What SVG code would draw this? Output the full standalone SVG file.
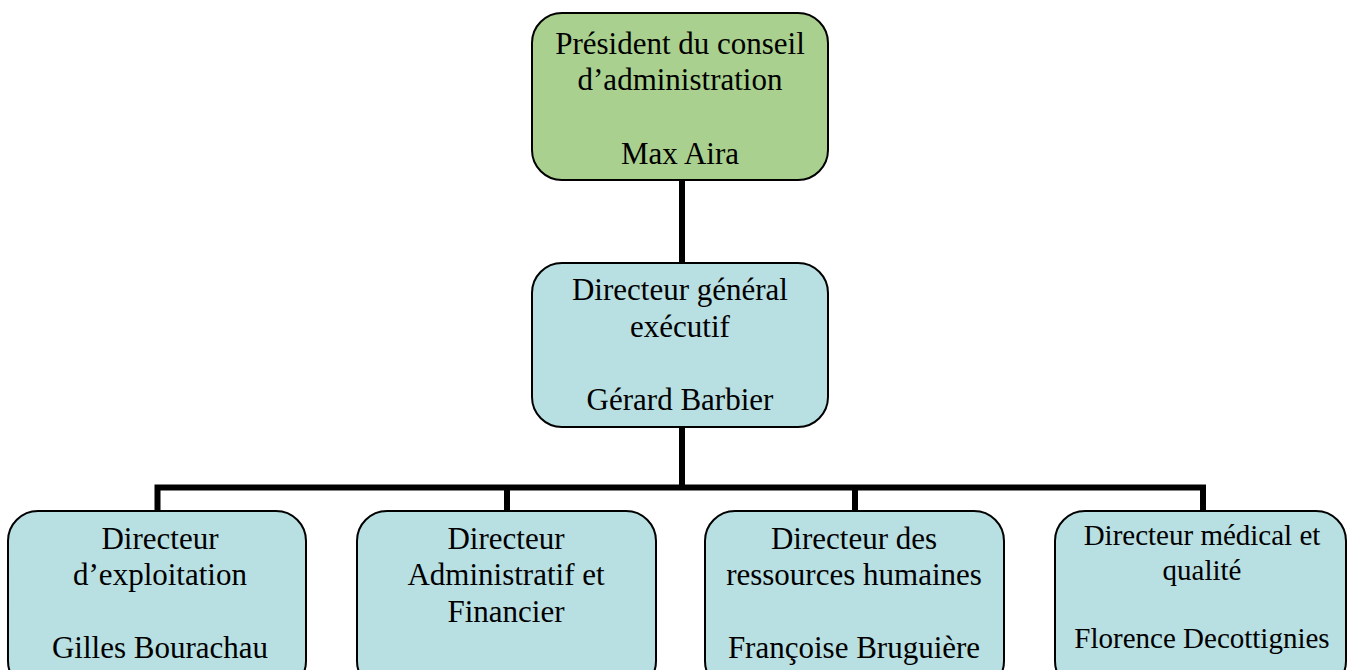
<svg xmlns="http://www.w3.org/2000/svg" width="1347" height="670" viewBox="0 0 1347 670">
<style>
.box{stroke:#000;stroke-width:2}
.green{fill:#a9d08e}
.blue{fill:#b8dfe2}
.t{font-family:"Liberation Serif","Times New Roman",serif;font-size:31px;fill:#000;text-anchor:middle}
.s{font-size:29px}
.conn{fill:none;stroke:#000;stroke-width:6;stroke-linejoin:miter}
</style>
<rect width="1347" height="670" fill="#fff"/>
<g id="connectors">
<path class="conn" d="M682 180V263"/>
<path class="conn" d="M682 427V487.5"/>
<path class="conn" d="M157.5 511V487.5H1203V511"/>
<path class="conn" d="M507 487.5V511"/>
<path class="conn" d="M855 487.5V511"/>
</g>
<g id="president">
<rect class="box green" x="532" y="13" width="296" height="167" rx="30"/>
<text class="t" x="680" y="54">Président du conseil</text>
<text class="t" x="680" y="90">d’administration</text>
<text class="t" x="680" y="164">Max Aira</text>
</g>
<g id="dg">
<rect class="box blue" x="532" y="263" width="296" height="164" rx="30"/>
<text class="t" x="680" y="300">Directeur général</text>
<text class="t" x="680" y="337">exécutif</text>
<text class="t" x="680" y="410">Gérard Barbier</text>
</g>
<g id="exploitation">
<rect class="box blue" x="8" y="511" width="298" height="180" rx="30"/>
<text class="t" x="160" y="549">Directeur</text>
<text class="t" x="160" y="585">d’exploitation</text>
<text class="t" x="160" y="658">Gilles Bourachau</text>
</g>
<g id="daf">
<rect class="box blue" x="357" y="511" width="299" height="180" rx="30"/>
<text class="t" x="506" y="549">Directeur</text>
<text class="t" x="506" y="585">Administratif et</text>
<text class="t" x="506" y="622">Financier</text>
</g>
<g id="rh">
<rect class="box blue" x="705" y="511" width="299" height="180" rx="30"/>
<text class="t" x="854" y="549">Directeur des</text>
<text class="t" x="854" y="585">ressources humaines</text>
<text class="t" x="854" y="658">Françoise Bruguière</text>
</g>
<g id="medical">
<rect class="box blue" x="1055" y="511" width="291" height="180" rx="30"/>
<text class="t s" x="1202" y="545">Directeur médical et</text>
<text class="t s" x="1202" y="580">qualité</text>
<text class="t s" x="1202" y="648">Florence Decottignies</text>
</g>
</svg>
